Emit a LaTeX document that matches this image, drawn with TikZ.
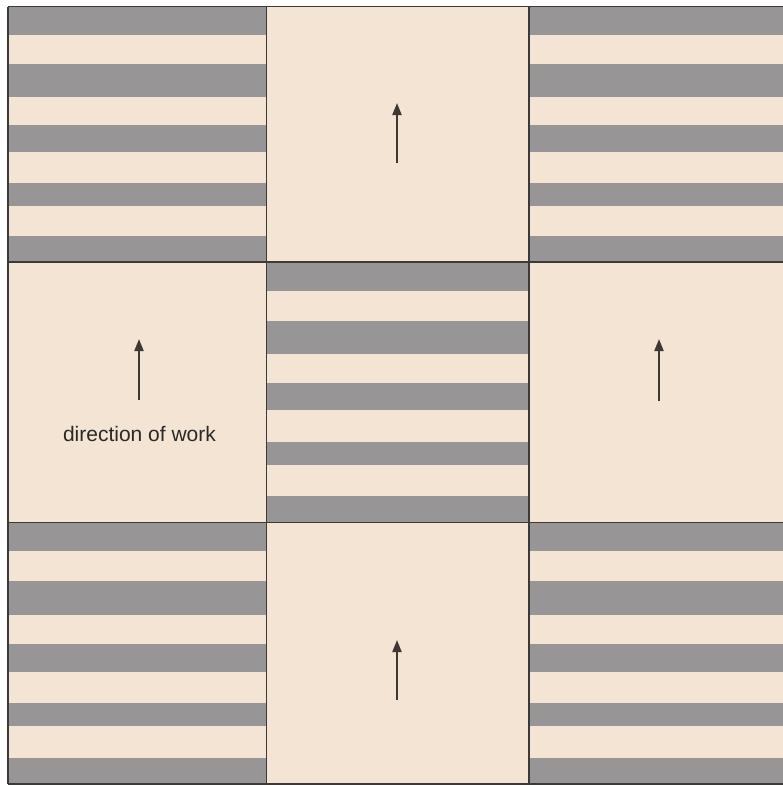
\documentclass[tikz,border=0pt]{standalone}
\usepackage{fontspec}
\setmainfont{Liberation Sans}
\usetikzlibrary{arrows.meta}
\definecolor{TileCream}{HTML}{F3E4D3}
\definecolor{StripeGray}{HTML}{979595}
\definecolor{GridInk}{HTML}{3C3A38}
\definecolor{ArrowInk}{HTML}{3D3833}
\definecolor{LabelInk}{HTML}{2B2927}
% gray bands of a striped tile, as fractions of its height
\newcommand{\StripedTile}[4]{%
  \foreach \a/\b in {0/0.11,0.225/0.355,0.465/0.57,0.69/0.78,0.9/1}{
    \fill[StripeGray] (#1,{#2+\a*(#4-#2)}) rectangle (#3,{#2+\b*(#4-#2)});
  }%
}
\tikzset{
  quilt/.style={x=1pt,y=-1pt,font=\fontsize{21}{25}\selectfont,text=LabelInk},
  gridline/.style={draw=GridInk,line width=1.6pt},
  workarrow/.style={-{Triangle[length=12pt,width=9pt]},line width=2pt,draw=ArrowInk},
}
\begin{document}
\begin{tikzpicture}[quilt]
  \useasboundingbox (0,0) rectangle (783,785);
  \fill[TileCream] (8,6.5) rectangle (784,784);

  \StripedTile{8}{6.5}{266.5}{262}
  \StripedTile{529}{6.5}{784}{262}
  \StripedTile{266.5}{262}{529}{522.5}
  \StripedTile{8}{522.5}{266.5}{784}
  \StripedTile{529}{522.5}{784}{784}

  \foreach \x in {8,266.5,529,784} \draw[gridline] (\x,6.5) -- (\x,784);
  \foreach \y in {6.5,262,522.5,784} \draw[gridline] (8,\y) -- (784,\y);

  \coordinate (top tail) at (397,163);   \coordinate (top tip) at (397,103);
  \coordinate (left tail) at (139,400);  \coordinate (left tip) at (139,339);
  \coordinate (right tail) at (659,401); \coordinate (right tip) at (659,339);
  \coordinate (bottom tail) at (397,700);\coordinate (bottom tip) at (397,640);
  \draw[workarrow] (top tail) -- (top tip);
  \draw[workarrow] (left tail) -- (left tip);
  \draw[workarrow] (right tail) -- (right tip);
  \draw[workarrow] (bottom tail) -- (bottom tip);

  \node[anchor=base,inner sep=0pt] (work label) at (139.5,441) {direction of work};
\end{tikzpicture}
\end{document}
